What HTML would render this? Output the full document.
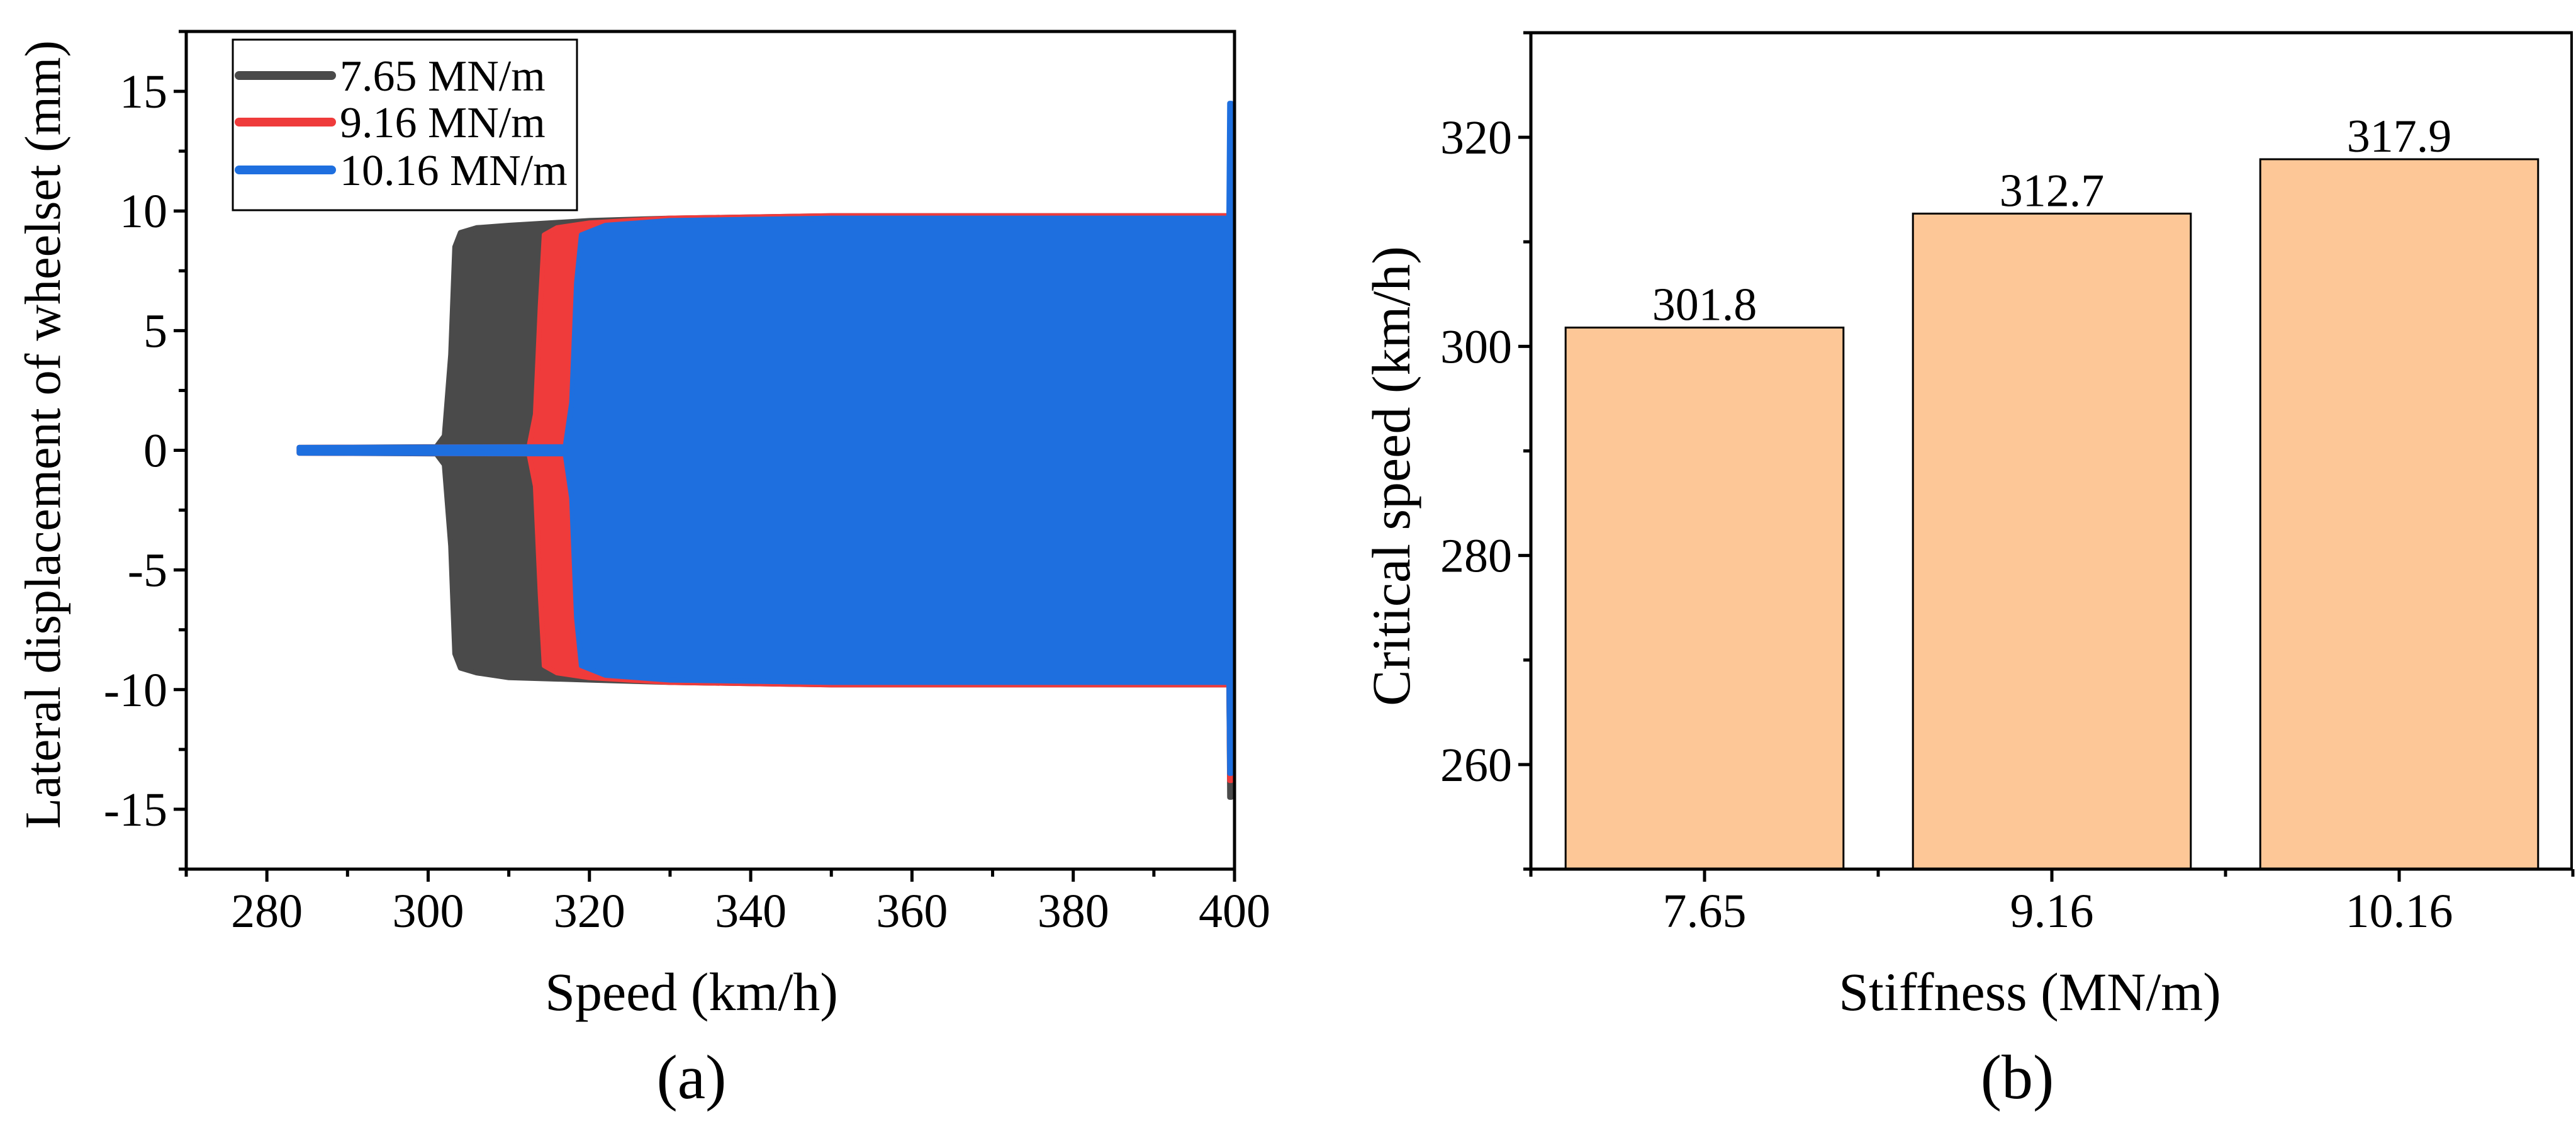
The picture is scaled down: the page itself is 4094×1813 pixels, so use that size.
<!DOCTYPE html>
<html><head><meta charset="utf-8"><style>
html,body{margin:0;padding:0;background:#fff;}
svg{display:block;}
text{font-family:"Liberation Serif","Times New Roman",serif;}
</style></head><body>
<svg id="fig" width="4094" height="1813" viewBox="0 0 4094 1813" xmlns="http://www.w3.org/2000/svg" font-family="'Liberation Serif', serif">
<g id="pa"></g>
<g id="pb"></g>
</svg>
<script>
// ---- Panel (a) data ----
const xTicksA = [280,300,320,340,360,380,400];
const yTicksA = [-15,-10,-5,0,5,10,15];
const seriesNames = ["7.65 MN/m","9.16 MN/m","10.16 MN/m"];
const seriesColors = ["#4a4a4a","#ef3b3b","#1e6fdf"];
const speedK765 = [284,301,302,302.8,303.3,304,306,310,320,330,350,399.3,399.4,399.6,399.7];
const upperK765 = [0.12,0.15,0.6,4,8.5,9.1,9.3,9.4,9.6,9.7,9.8,9.8,9.8,9.8,7.5];
const lowerK765 = [-0.12,-0.15,-0.6,-4,-8.5,-9.1,-9.3,-9.5,-9.6,-9.7,-9.8,-9.8,-14.5,-14.5,-7.5];
const speedK916 = [284,312.5,313.3,313.9,314.4,316,320,330,350,399.3,399.4,399.6,399.7];
const upperK916 = [0.12,0.15,1.5,6,9,9.3,9.5,9.7,9.8,9.8,9.8,9.8,7.5];
const lowerK916 = [-0.12,-0.15,-1.5,-6,-9,-9.3,-9.5,-9.7,-9.8,-9.8,-13.8,-13.8,-7.5];
const speedK1016 = [284,317,317.8,318.4,319,322,330,350,399.3,399.4,399.6,399.7];
const upperK1016 = [0.12,0.15,2,7,9,9.4,9.6,9.7,9.7,14.5,14.5,7.5];
const lowerK1016 = [-0.12,-0.15,-2,-7,-9,-9.4,-9.6,-9.7,-9.7,-13.5,-13.5,-7.5];
// ---- Panel (b) data ----
const categories = ["7.65","9.16","10.16"];
const criticalSpeeds = [301.8,312.7,317.9];
const yTicksB = [260,280,300,320];

const NS="http://www.w3.org/2000/svg";
function mk(parent,tag,attrs,text){const e=document.createElementNS(NS,tag);for(const k in attrs)e.setAttribute(k,attrs[k]);if(text!==undefined){e.textContent=text;e.setAttribute('font-family',"'Liberation Serif', serif");}parent.appendChild(e);return e;}

// Panel A
const pa=document.getElementById('pa');
const AL=296,AR=1962,AT=50,AB=1381;
const xA=v=>AL+(v-270)/(400-270)*(AR-AL);
const yA=v=>AB-(v+17.5)/35*(AB-AT);
const sp=[speedK765,speedK916,speedK1016],up=[upperK765,upperK916,upperK1016],lo=[lowerK765,lowerK916,lowerK1016];
for(let s=0;s<3;s++){
  let pts=[];
  for(let i=0;i<sp[s].length;i++)pts.push(xA(sp[s][i]).toFixed(1)+","+yA(up[s][i]).toFixed(1));
  for(let i=sp[s].length-1;i>=0;i--)pts.push(xA(sp[s][i]).toFixed(1)+","+yA(lo[s][i]).toFixed(1));
  const p=mk(pa,'polygon',{points:pts.join(' '),fill:seriesColors[s],stroke:seriesColors[s],'stroke-width':8,'stroke-linejoin':'round'});
  
  
}
const fa=mk(pa,'rect',{x:AL,y:AT,width:AR-AL,height:AB-AT,fill:'none',stroke:'#000','stroke-width':5});

for(let v=270;v<=400;v+=10){const maj=xTicksA.includes(v);mk(pa,'line',{x1:xA(v),x2:xA(v),y1:AB,y2:AB+(maj?20:12),stroke:'#000','stroke-width':5});}
xTicksA.forEach(v=>{const t=mk(pa,'text',{x:xA(v),y:AB+92,'font-size':76,'text-anchor':'middle'},v);});
for(let v=-17.5;v<=17.5;v+=2.5){const maj=yTicksA.includes(v);mk(pa,'line',{x1:AL,x2:AL-(maj?20:12),y1:yA(v),y2:yA(v),stroke:'#000','stroke-width':5});}
yTicksA.forEach(v=>{const t=mk(pa,'text',{x:AL-30,y:yA(v)+26,'font-size':76,'text-anchor':'end'},v);});
let t=mk(pa,'text',{x:(AL+AR)/2-30,y:1605,'font-size':86,'text-anchor':'middle'},'Speed (km/h)');
t=mk(pa,'text',{x:0,y:0,'font-size':80,'text-anchor':'middle',transform:`translate(95,${(AT+AB)/2-25}) rotate(-90)`},'Lateral displacement of wheelset (mm)');
t=mk(pa,'text',{x:(AL+AR)/2-30,y:1745,'font-size':100,'text-anchor':'middle'},'(a)');
const lg=mk(pa,'g',{});
mk(lg,'rect',{x:370,y:63,width:547,height:271,fill:'#fff',stroke:'#000','stroke-width':3});
[120,194,270].forEach((yy,i)=>{
  const le=mk(lg,'g',{});
  mk(le,'line',{x1:380,x2:527,y1:yy,y2:yy,stroke:seriesColors[i],'stroke-width':14,'stroke-linecap':'round'});
  mk(le,'text',{x:540,y:yy+24,'font-size':70},seriesNames[i]);
});

// Panel B
const pb=document.getElementById('pb');
const BL=2433,BR=4089,BT=52,BB=1381;
const yB=v=>BB-(v-250)/80*(BB-BT);
const band=(BR-BL)/categories.length;
const xB=i=>BL+band*(i+0.5);
categories.forEach((c,i)=>{
  const w=band*0.8;
  const r=mk(pb,'rect',{x:xB(i)-w/2,y:yB(criticalSpeeds[i]),width:w,height:BB-yB(criticalSpeeds[i]),fill:'#fdc797',stroke:'#000','stroke-width':3});
  
  const l=mk(pb,'text',{x:xB(i),y:yB(criticalSpeeds[i])-12,'font-size':74,'text-anchor':'middle'},criticalSpeeds[i].toFixed(1));
  
  const tl=mk(pb,'text',{x:xB(i),y:BB+92,'font-size':76,'text-anchor':'middle'},c);
  
  mk(pb,'line',{x1:xB(i),x2:xB(i),y1:BB,y2:BB+20,stroke:'#000','stroke-width':5});
});
for(let i=0;i<=categories.length;i++)mk(pb,'line',{x1:BL+band*i,x2:BL+band*i,y1:BB,y2:BB+12,stroke:'#000','stroke-width':5});
const fb=mk(pb,'polyline',{points:`${BR},${BT} ${BL},${BT} ${BL},${BB} ${BR},${BB}`,fill:'none',stroke:'#000','stroke-width':5});
mk(pb,'line',{x1:BR-2,x2:BR-2,y1:BT,y2:BB,stroke:'#000','stroke-width':4});

for(let v=250;v<=330;v+=10){const maj=yTicksB.includes(v);mk(pb,'line',{x1:BL,x2:BL-(maj?20:12),y1:yB(v),y2:yB(v),stroke:'#000','stroke-width':5});}
yTicksB.forEach(v=>{const t=mk(pb,'text',{x:BL-30,y:yB(v)+26,'font-size':76,'text-anchor':'end'},v);});
t=mk(pb,'text',{x:(BL+BR)/2-35,y:1605,'font-size':86,'text-anchor':'middle'},'Stiffness (MN/m)');
t=mk(pb,'text',{x:0,y:0,'font-size':86,'text-anchor':'middle',transform:`translate(2240,${(BT+BB)/2+40}) rotate(-90)`},'Critical speed (km/h)');
t=mk(pb,'text',{x:(BL+BR)/2-55,y:1745,'font-size':100,'text-anchor':'middle'},'(b)');
</script>
</body></html>
